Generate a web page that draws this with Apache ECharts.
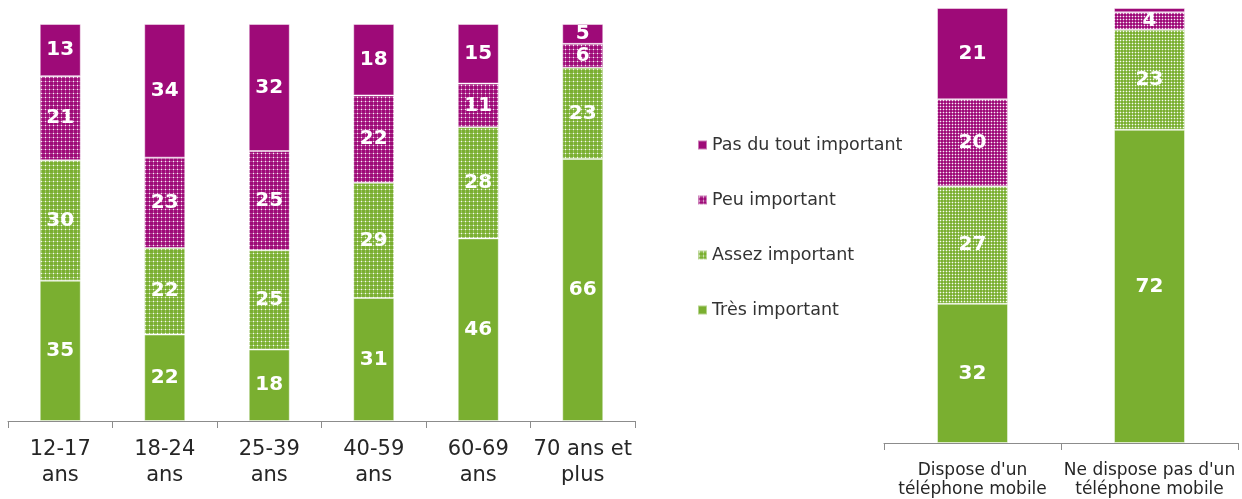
<!DOCTYPE html>
<html>
<head>
<meta charset="utf-8">
<script src="https://cdn.jsdelivr.net/npm/echarts@6/dist/echarts.min.js"></script>
<style>
  html, body { margin: 0; padding: 0; background: #fff; }
  #chart { width: 1242px; height: 499px; }
</style>
</head>
<body>
<div id="chart"></div>
<script>
// left chart : age groups
const ageGroups = ['12-17\nans', '18-24\nans', '25-39\nans', '40-59\nans', '60-69\nans', '70 ans et\nplus'];
const ageTres = [35, 22, 18, 31, 46, 66];
const ageAssez = [30, 22, 25, 29, 28, 23];
const agePeu = [21, 23, 25, 22, 11, 6];
const agePas = [13, 34, 32, 18, 15, 5];

// right chart : mobile phone
const phoneGroups = ["Dispose d'un\ntéléphone mobile", "Ne dispose pas d'un\ntéléphone mobile"];
const phoneTres = [32, 72];
const phoneAssez = [27, 23];
const phonePeu = [20, 4];
const phonePas = [21, 1];

const seriesNames = ['Très important', 'Assez important', 'Peu important', 'Pas du tout important'];

const MAGENTA = '#9e0a78';
const GREEN = '#7aaf30';
const FONT = '"DejaVu Sans", Verdana, sans-serif';

// dotted fill like the excel patterns
function makePattern(base, size) {
  const c = document.createElement('canvas');
  c.width = size;
  c.height = size;
  const ctx = c.getContext('2d');
  ctx.fillStyle = base;
  ctx.fillRect(0, 0, size, size);
  ctx.fillStyle = 'rgba(255,255,255,0.25)';
  ctx.fillRect(0, 1, size, 1);
  ctx.fillRect(1, 0, 1, size);
  ctx.fillStyle = 'rgba(255,255,255,0.9)';
  ctx.fillRect(1, 1, 1, 1);
  return c;
}

const fills = [
  [GREEN, GREEN],
  [{ image: makePattern(GREEN, 4), repeat: 'repeat' }, { image: makePattern(GREEN, 3), repeat: 'repeat' }],
  [{ image: makePattern(MAGENTA, 4), repeat: 'repeat' }, { image: makePattern(MAGENTA, 3), repeat: 'repeat' }],
  [MAGENTA, MAGENTA]
];

// 100% stacked, like the original: bar height is the share of the bar total
function toShares(stack) {
  const totals = stack[0].map((_, i) => stack.reduce((s, arr) => s + arr[i], 0));
  return stack.map(arr => arr.map((v, i) => ({ value: v / totals[i] * 100, raw: v })));
}

const ageShares = toShares([ageTres, ageAssez, agePeu, agePas]);
const phoneShares = toShares([phoneTres, phoneAssez, phonePeu, phonePas]);

function makeSeries(shares, idx, barWidth, fontSize, stack) {
  return shares.map((data, k) => ({
    name: seriesNames[k],
    type: 'bar',
    stack: stack,
    xAxisIndex: idx,
    yAxisIndex: idx,
    barWidth: barWidth,
    data: data,
    itemStyle: { color: fills[k][idx], borderColor: 'rgba(255,255,255,0.45)', borderWidth: 1 },
    label: {
      show: true,
      position: 'inside',
      color: '#fff',
      fontFamily: FONT,
      fontWeight: 'bold',
      fontSize: fontSize,
      formatter: p => (p.data.raw >= 2 ? p.data.raw : '')
    },
    emphasis: { disabled: true }
  }));
}

function xAxis(idx, cats, fontSize, lineHeight, margin) {
  return {
    type: 'category',
    gridIndex: idx,
    data: cats,
    axisLine: { lineStyle: { color: '#8c8c8c', width: 1 } },
    axisTick: { show: true, length: 7, lineStyle: { color: '#8c8c8c' } },
    axisLabel: {
      interval: 0,
      color: '#262626',
      fontFamily: FONT,
      fontSize: fontSize,
      lineHeight: lineHeight,
      margin: margin
    }
  };
}

function yAxis(idx) {
  return {
    type: 'value',
    gridIndex: idx,
    min: 0,
    max: 100,
    show: false,
    splitLine: { show: false }
  };
}

const chart = echarts.init(document.getElementById('chart'), null, { renderer: 'canvas' });

chart.setOption({
  animation: false,
  backgroundColor: '#fff',
  grid: [
    { left: 8, width: 627, top: 24, bottom: 78 },
    { left: 884, width: 354, top: 8, bottom: 55 }
  ],
  xAxis: [
    xAxis(0, ageGroups, 21, 26, 16),
    xAxis(1, phoneGroups, 17, 19, 18)
  ],
  yAxis: [yAxis(0), yAxis(1)],
  legend: {
    orient: 'vertical',
    left: 692,
    top: 131,
    itemWidth: 9,
    itemHeight: 9,
    itemGap: 37,
    icon: 'rect',
    data: ['Pas du tout important', 'Peu important', 'Assez important', 'Très important'],
    textStyle: { color: '#333', fontFamily: FONT, fontSize: 17.5, lineHeight: 18, padding: [0, 0, 0, 0] },
    selectedMode: false
  },
  series: [
    ...makeSeries(ageShares, 0, 41, 20, 'age'),
    ...makeSeries(phoneShares, 1, 71, 20, 'phone')
  ]
});
</script>
</body>
</html>
